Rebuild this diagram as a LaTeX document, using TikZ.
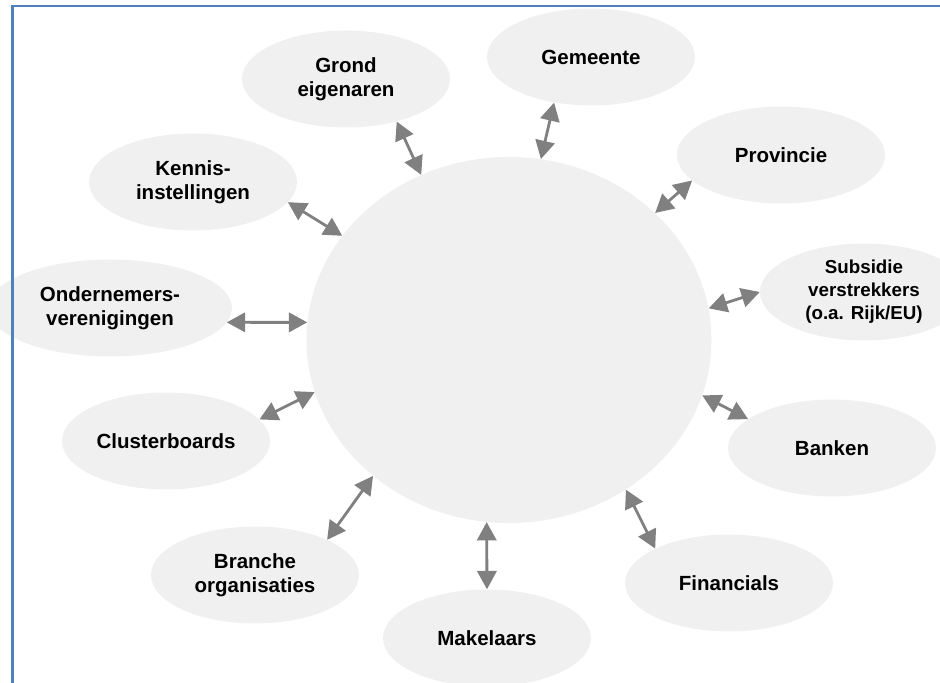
\documentclass[tikz,border=0pt]{standalone}
\usepackage{fontspec}
\setmainfont{Liberation Sans}
\usepackage{tikz}
\usepackage{xcolor}
\usetikzlibrary{
    arrows.meta,
    shapes
}

\definecolor{framecol}{RGB}{79,129,189}
\definecolor{ovalfill}{RGB}{240,240,240}
\definecolor{linkgray}{RGB}{128,128,128}

\begin{document}
\begin{tikzpicture}[x=0.03cm, y=-0.03cm,
        party/.style={ellipse, fill=ovalfill, inner sep=-6pt, minimum width=6.24cm, minimum height=2.91cm,
            align=center, font=\fontsize{17.5}{20.5}\selectfont\bfseries},
        link/.style={linkgray, line width=2.4pt,
            {Triangle[length=0.55cm, width=0.58cm]}-{Triangle[length=0.55cm, width=0.58cm]}}]
                                \useasboundingbox (0, 0) rectangle (940, 683);
                                \node[ellipse, fill=ovalfill, minimum width=12.15cm, minimum height=10.98cm] (hub) at (509, 340) {};
                                \node[party] (grond) at (346, 79) {Grond\\eigenaren};
                                \node[party] (gemeente) at (591, 57) {Gemeente};
                                \node[party] (provincie) at (781, 155) {Provincie};
                                \node[party, font=\fontsize{16}{19.5}\selectfont\bfseries] (subsidie) at (864, 292) {Subsidie\\verstrekkers\\(o.a. Rijk/EU)};
                                \node[party] (banken) at (832, 448) {Banken};
                                \node[party] (financials) at (729, 583) {Financials};
                                \node[party] (makelaars) at (487, 638) {Makelaars};
                                \node[party] (branche) at (255, 575) {Branche\\organisaties};
                                \node[party] (clusterboards) at (166, 441) {Clusterboards};
                                \node[party, minimum width=7.32cm] (ondernemers) at (110, 308) {Ondernemers-\\verenigingen};
                                \node[party] (kennis) at (193, 182) {Kennis-\\instellingen};
                                \draw[link] (grond.-40.8) -- (hub.118.5);
                                \draw[link] (gemeente.231.8) -- (hub.80.5);
                                \draw[link] (provincie.196.5) -- (hub.41.6);
                                \draw[link] (subsidie.180) -- (hub.9.8);
                                \draw[link] (banken.161.1) -- (hub.-16.1);
                                \draw[link] (financials.155) -- (hub.-52.3);
                                \draw[link] (makelaars.90) -- (hub.263.2);
                                \draw[link] (branche.26.3) -- (hub.225.6);
                                \draw[link] (clusterboards.13.6) -- (hub.195.2);
                                \draw[link] (ondernemers.-7.4) -- (hub.175.2);
                                \draw[link] (kennis.-12.2) -- (hub.148.1);
                                \draw[framecol, line width=2pt]
                                (12.5, 683) -- (12.5, 6) -- (940, 6);
                            \end{tikzpicture}
\end{document}
